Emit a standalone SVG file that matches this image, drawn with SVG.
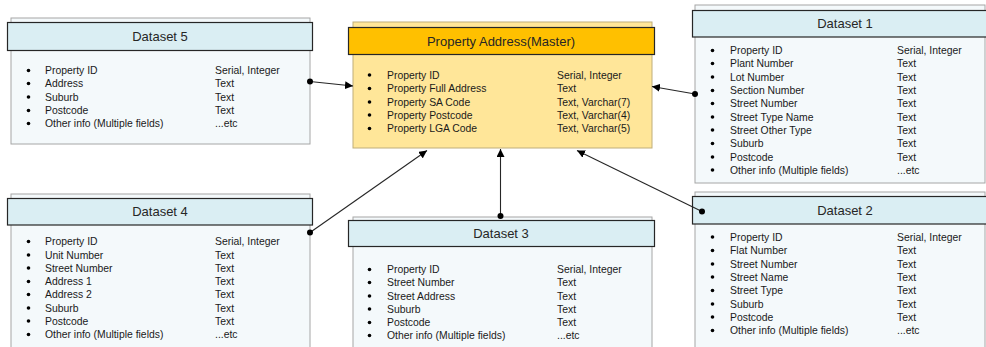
<svg xmlns="http://www.w3.org/2000/svg" width="986" height="347" viewBox="0 0 986 347">
  <style>
    .body { fill: #f4f9fb; stroke: #a6a6a6; stroke-width: 1; }
    .head { fill: #daeef3; stroke: #262626; stroke-width: 1.2; }
    .mbody { fill: #ffe699; stroke: #bfae7a; stroke-width: 1; }
    .mhead { fill: #ffc000; stroke: #262626; stroke-width: 1.2; }
    .title { font-family: "Liberation Sans", Arial, sans-serif; font-size: 13px; fill: #262626; text-anchor: middle; }
    .item { font-family: "Liberation Sans", Arial, sans-serif; font-size: 10.4px; fill: #1a1a1a; }
    .bul { fill: #000; }
    .conn { stroke: #262626; stroke-width: 1.1; fill: none; }
    .dot { fill: #000; }
  </style>
  <defs>
    <marker id="arrow" viewBox="0 0 10 10" refX="10" refY="5" markerWidth="8" markerHeight="8" markerUnits="userSpaceOnUse" orient="auto">
      <path d="M0,0 L10,5 L0,10 z" fill="#000"/>
    </marker>
  </defs>

  <!-- Dataset 5 -->
  <g id="dataset5">
    <rect class="body" x="11" y="18" width="299" height="126"/>
    <rect class="head" x="7.5" y="22.5" width="305" height="28"/>
    <text class="title" x="160" y="41">Dataset 5</text>
    <g class="item">
      <circle class="bul" cx="28.5" cy="70.5" r="1.8"/><text x="45" y="74">Property ID</text><text x="215" y="74">Serial, Integer</text>
      <circle class="bul" cx="28.5" cy="83.5" r="1.8"/><text x="45" y="87">Address</text><text x="215" y="87">Text</text>
      <circle class="bul" cx="28.5" cy="97" r="1.8"/><text x="45" y="100.5">Suburb</text><text x="215" y="100.5">Text</text>
      <circle class="bul" cx="28.5" cy="110.5" r="1.8"/><text x="45" y="114">Postcode</text><text x="215" y="114">Text</text>
      <circle class="bul" cx="28.5" cy="123.5" r="1.8"/><text x="45" y="127">Other info (Multiple fields)</text><text x="215" y="127">...etc</text>
    </g>
  </g>

  <!-- Master -->
  <g id="master">
    <rect class="mbody" x="353" y="22" width="299" height="126"/>
    <rect class="mhead" x="348.5" y="27.5" width="306" height="27"/>
    <text class="title" x="501" y="45.5">Property Address(Master)</text>
    <g class="item">
      <circle class="bul" cx="369.5" cy="75" r="1.8"/><text x="387" y="78.5">Property ID</text><text x="557" y="78.5">Serial, Integer</text>
      <circle class="bul" cx="369.5" cy="88.5" r="1.8"/><text x="387" y="92">Property Full Address</text><text x="557" y="92">Text</text>
      <circle class="bul" cx="369.5" cy="102" r="1.8"/><text x="387" y="105.5">Property SA Code</text><text x="557" y="105.5">Text, Varchar(7)</text>
      <circle class="bul" cx="369.5" cy="115" r="1.8"/><text x="387" y="118.5">Property Postcode</text><text x="557" y="118.5">Text, Varchar(4)</text>
      <circle class="bul" cx="369.5" cy="128.5" r="1.8"/><text x="387" y="132">Property LGA Code</text><text x="557" y="132">Text, Varchar(5)</text>
    </g>
  </g>

  <!-- Dataset 1 -->
  <g id="dataset1">
    <rect class="body" x="695" y="5" width="290" height="178"/>
    <rect class="head" x="692.5" y="10.5" width="300" height="26.5"/>
    <text class="title" x="845" y="28">Dataset 1</text>
    <g class="item">
      <circle class="bul" cx="712.5" cy="50.5" r="1.8"/><text x="730" y="54">Property ID</text><text x="897" y="54">Serial, Integer</text>
      <circle class="bul" cx="712.5" cy="63.5" r="1.8"/><text x="730" y="67">Plant Number</text><text x="897" y="67">Text</text>
      <circle class="bul" cx="712.5" cy="77" r="1.8"/><text x="730" y="80.5">Lot Number</text><text x="897" y="80.5">Text</text>
      <circle class="bul" cx="712.5" cy="90.5" r="1.8"/><text x="730" y="94">Section Number</text><text x="897" y="94">Text</text>
      <circle class="bul" cx="712.5" cy="103.5" r="1.8"/><text x="730" y="107">Street Number</text><text x="897" y="107">Text</text>
      <circle class="bul" cx="712.5" cy="117" r="1.8"/><text x="730" y="120.5">Street Type Name</text><text x="897" y="120.5">Text</text>
      <circle class="bul" cx="712.5" cy="130" r="1.8"/><text x="730" y="133.5">Street Other Type</text><text x="897" y="133.5">Text</text>
      <circle class="bul" cx="712.5" cy="143.5" r="1.8"/><text x="730" y="147">Suburb</text><text x="897" y="147">Text</text>
      <circle class="bul" cx="712.5" cy="157" r="1.8"/><text x="730" y="160.5">Postcode</text><text x="897" y="160.5">Text</text>
      <circle class="bul" cx="712.5" cy="170" r="1.8"/><text x="730" y="173.5">Other info (Multiple fields)</text><text x="897" y="173.5">...etc</text>
    </g>
  </g>

  <!-- Dataset 4 -->
  <g id="dataset4">
    <rect class="body" x="11" y="194" width="299" height="170"/>
    <rect class="head" x="7.5" y="198.5" width="305" height="26.5"/>
    <text class="title" x="160" y="216">Dataset 4</text>
    <g class="item">
      <circle class="bul" cx="28.5" cy="241.5" r="1.8"/><text x="45" y="245">Property ID</text><text x="215" y="245">Serial, Integer</text>
      <circle class="bul" cx="28.5" cy="255" r="1.8"/><text x="45" y="258.5">Unit Number</text><text x="215" y="258.5">Text</text>
      <circle class="bul" cx="28.5" cy="268" r="1.8"/><text x="45" y="271.5">Street Number</text><text x="215" y="271.5">Text</text>
      <circle class="bul" cx="28.5" cy="281.5" r="1.8"/><text x="45" y="285">Address 1</text><text x="215" y="285">Text</text>
      <circle class="bul" cx="28.5" cy="294.5" r="1.8"/><text x="45" y="298">Address 2</text><text x="215" y="298">Text</text>
      <circle class="bul" cx="28.5" cy="308" r="1.8"/><text x="45" y="311.5">Suburb</text><text x="215" y="311.5">Text</text>
      <circle class="bul" cx="28.5" cy="321" r="1.8"/><text x="45" y="324.5">Postcode</text><text x="215" y="324.5">Text</text>
      <circle class="bul" cx="28.5" cy="334.5" r="1.8"/><text x="45" y="338">Other info (Multiple fields)</text><text x="215" y="338">...etc</text>
    </g>
  </g>

  <!-- Dataset 3 -->
  <g id="dataset3">
    <rect class="body" x="353" y="217" width="299" height="150"/>
    <rect class="head" x="348.5" y="220.5" width="306" height="26"/>
    <text class="title" x="501" y="238">Dataset 3</text>
    <g class="item">
      <circle class="bul" cx="369.5" cy="269.5" r="1.8"/><text x="387" y="273">Property ID</text><text x="557" y="273">Serial, Integer</text>
      <circle class="bul" cx="369.5" cy="282.5" r="1.8"/><text x="387" y="286">Street Number</text><text x="557" y="286">Text</text>
      <circle class="bul" cx="369.5" cy="296" r="1.8"/><text x="387" y="299.5">Street Address</text><text x="557" y="299.5">Text</text>
      <circle class="bul" cx="369.5" cy="309" r="1.8"/><text x="387" y="312.5">Suburb</text><text x="557" y="312.5">Text</text>
      <circle class="bul" cx="369.5" cy="322.5" r="1.8"/><text x="387" y="326">Postcode</text><text x="557" y="326">Text</text>
      <circle class="bul" cx="369.5" cy="335.5" r="1.8"/><text x="387" y="339">Other info (Multiple fields)</text><text x="557" y="339">...etc</text>
    </g>
  </g>

  <!-- Dataset 2 -->
  <g id="dataset2">
    <rect class="body" x="695" y="192" width="290" height="170"/>
    <rect class="head" x="692.5" y="196.5" width="300" height="27.5"/>
    <text class="title" x="845" y="215">Dataset 2</text>
    <g class="item">
      <circle class="bul" cx="712.5" cy="237" r="1.8"/><text x="730" y="240.5">Property ID</text><text x="897" y="240.5">Serial, Integer</text>
      <circle class="bul" cx="712.5" cy="250.5" r="1.8"/><text x="730" y="254">Flat Number</text><text x="897" y="254">Text</text>
      <circle class="bul" cx="712.5" cy="264" r="1.8"/><text x="730" y="267.5">Street Number</text><text x="897" y="267.5">Text</text>
      <circle class="bul" cx="712.5" cy="277" r="1.8"/><text x="730" y="280.5">Street Name</text><text x="897" y="280.5">Text</text>
      <circle class="bul" cx="712.5" cy="290.5" r="1.8"/><text x="730" y="294">Street Type</text><text x="897" y="294">Text</text>
      <circle class="bul" cx="712.5" cy="304" r="1.8"/><text x="730" y="307.5">Suburb</text><text x="897" y="307.5">Text</text>
      <circle class="bul" cx="712.5" cy="317" r="1.8"/><text x="730" y="320.5">Postcode</text><text x="897" y="320.5">Text</text>
      <circle class="bul" cx="712.5" cy="330.5" r="1.8"/><text x="730" y="334">Other info (Multiple fields)</text><text x="897" y="334">...etc</text>
    </g>
  </g>

  <!-- Connectors: each dataset feeds the master record -->
  <g id="connectors">
    <line class="conn" x1="310" y1="81.5" x2="353" y2="86" marker-end="url(#arrow)"/>
    <circle class="dot" cx="310" cy="81.5" r="3"/>
    <line class="conn" x1="695" y1="94" x2="652" y2="86.5" marker-end="url(#arrow)"/>
    <circle class="dot" cx="695" cy="94" r="3"/>
    <line class="conn" x1="310" y1="232.5" x2="427" y2="150.5" marker-end="url(#arrow)"/>
    <circle class="dot" cx="310" cy="232.5" r="3"/>
    <line class="conn" x1="500.5" y1="216" x2="500.5" y2="149" marker-end="url(#arrow)"/>
    <circle class="dot" cx="500.5" cy="216" r="3"/>
    <line class="conn" x1="702" y1="211.5" x2="577" y2="150.5" marker-end="url(#arrow)"/>
    <circle class="dot" cx="702" cy="211.5" r="3"/>
  </g>
</svg>
